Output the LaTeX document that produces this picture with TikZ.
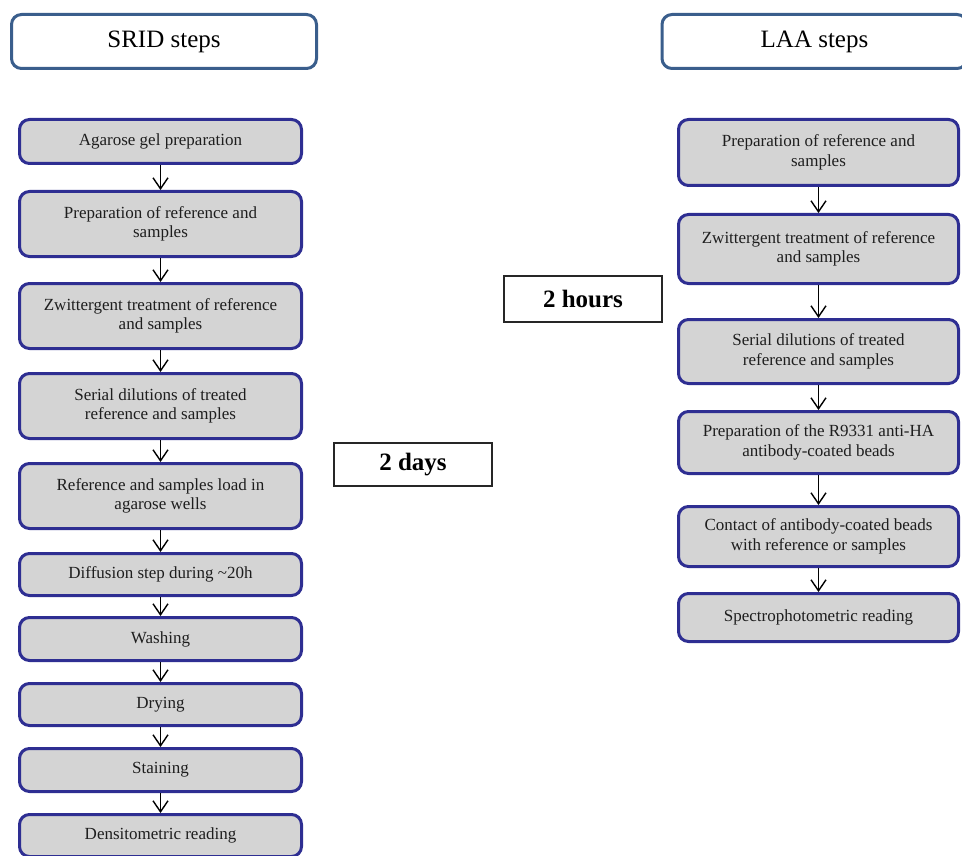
\documentclass[tikz,border=0pt]{standalone}
\usepackage{fontspec}
\setmainfont{Liberation Serif}
\usetikzlibrary{arrows.meta}
\definecolor{boxfill}{RGB}{212,212,212}
\definecolor{boxline}{RGB}{46,46,146}
\definecolor{headline}{RGB}{58,94,140}
\definecolor{txt}{RGB}{30,30,30}
\tikzset{
  stepbox/.style={draw=boxline, fill=boxfill, line width=3pt, rounded corners=10pt,
    inner sep=0pt, align=center, text=txt, font=\fontsize{17}{19.5}\selectfont},
  headbox/.style={draw=headline, fill=white, line width=3pt, rounded corners=10pt,
    inner sep=0pt, minimum width=305pt, minimum height=54pt, text=black,
    font=\fontsize{25}{28}\selectfont},
  timebox/.style={draw=black!85, fill=white, line width=1.3pt, inner sep=0pt,
    minimum width=158pt, text=black, font=\fontsize{25}{28}\selectfont\bfseries},
  flow/.style={line width=1.4pt, black, -{Straight Barb[length=11pt,width=15pt,line width=1.4pt]}}
}
\begin{document}
\begin{tikzpicture}[x=1pt,y=-1pt]
\useasboundingbox (0,0) rectangle (962,856);
% headers
\node[headbox] (h1) at (164,41.5) {SRID steps};
\node[headbox] (h2) at (814.5,41.5) {LAA steps};
% left column
\begin{scope}[every node/.append style={minimum width=282pt}]
\node[stepbox, minimum height=44pt] (l1) at (160.5,141.5) {Agarose gel preparation};
\node[stepbox, minimum height=65pt] (l2) at (160.5,224) {Preparation of reference and\\samples};
\node[stepbox, minimum height=65pt] (l3) at (160.5,316) {Zwittergent treatment of reference\\and samples};
\node[stepbox, minimum height=65pt] (l4) at (160.5,406) {Serial dilutions of treated\\reference and samples};
\node[stepbox, minimum height=65pt] (l5) at (160.5,496) {Reference and samples load in\\agarose wells};
\node[stepbox, minimum height=42pt] (l6) at (160.5,574.5) {Diffusion step during \textasciitilde 20h};
\node[stepbox, minimum height=43pt] (l7) at (160.5,639) {Washing};
\node[stepbox, minimum height=42pt] (l8) at (160.5,704.5) {Drying};
\node[stepbox, minimum height=43pt] (l9) at (160.5,770) {Staining};
\node[stepbox, minimum height=42pt] (l10) at (160.5,835.5) {Densitometric reading};
\end{scope}
% right column
\begin{scope}[every node/.append style={minimum width=280pt}]
\node[stepbox, minimum height=66pt] (r1) at (818.5,152.5) {Preparation of reference and\\samples};
\node[stepbox, minimum height=69pt] (r2) at (818.5,249) {Zwittergent treatment of reference\\and samples};
\node[stepbox, minimum height=64pt] (r3) at (818.5,351.5) {Serial dilutions of treated\\reference and samples};
\node[stepbox, minimum height=62pt] (r4) at (818.5,442.5) {Preparation of the R9331 anti-HA\\antibody-coated beads};
\node[stepbox, minimum height=60pt] (r5) at (818.5,536.5) {Contact of antibody-coated beads\\with reference or samples};
\node[stepbox, minimum height=48pt] (r6) at (818.5,617.5) {Spectrophotometric reading};
\end{scope}
% time boxes
\node[timebox, minimum height=46pt] (t1) at (583,299) {2 hours};
\node[timebox, minimum height=43pt] (t2) at (413,464.5) {2 days};
% arrows
\foreach \a/\b in {l1/l2,l2/l3,l3/l4,l4/l5,l5/l6,l6/l7,l7/l8,l8/l9,l9/l10,
                   r1/r2,r2/r3,r3/r4,r4/r5,r5/r6}
  \draw[flow] (\a.south) -- (\b.north);
\end{tikzpicture}
\end{document}
